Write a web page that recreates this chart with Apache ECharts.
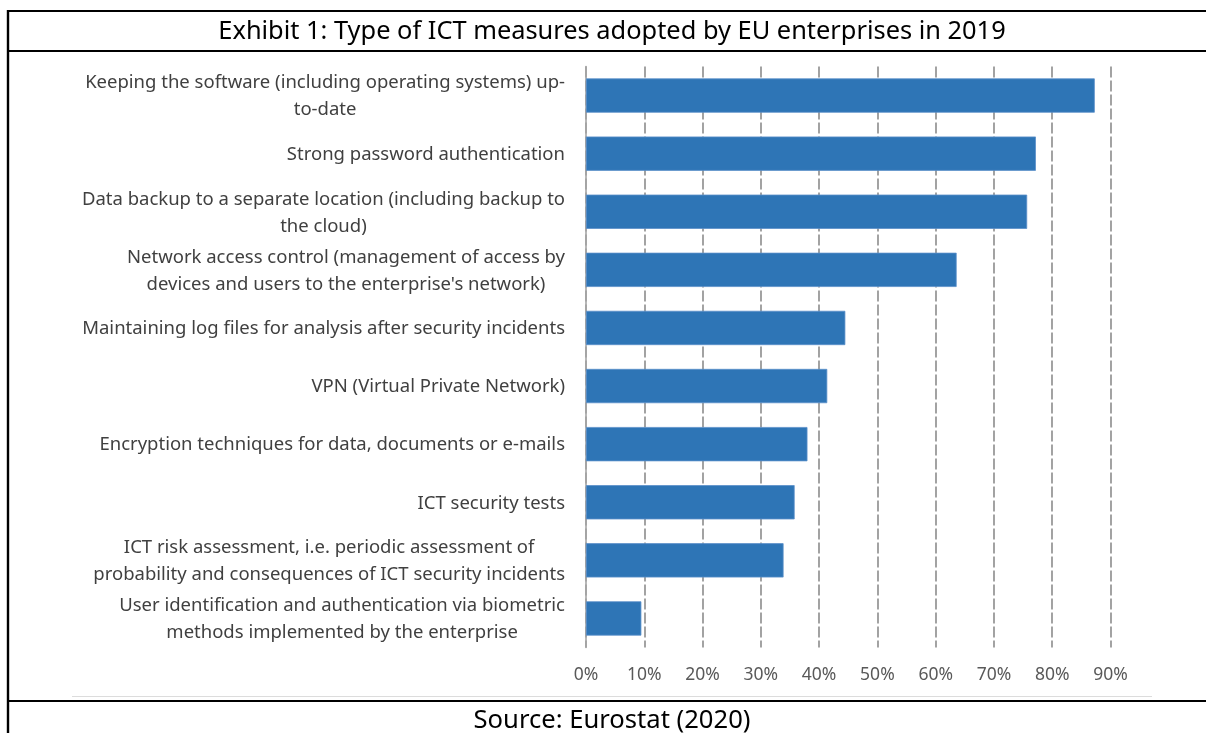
<!DOCTYPE html>
<html>
<head>
<meta charset="utf-8">
<title>Type of ICT measures adopted by EU enterprises in 2019</title>
<script src="https://cdn.jsdelivr.net/npm/echarts@6/dist/echarts.min.js"></script>
<style>
  html, body { margin: 0; padding: 0; background: #ffffff; }
  #chart { width: 1206px; height: 733px; }
</style>
</head>
<body>
<div id="chart"></div>
<script>
// Share of EU enterprises using each ICT security measure (%), 2019
const categories = [
  'Keeping the software (including operating systems) up-\nto-date',
  'Strong password authentication',
  'Data backup to a separate location (including backup to\nthe cloud)',
  'Network access control (management of access by\ndevices and users to the enterprise\'s network)',
  'Maintaining log files for analysis after security incidents',
  'VPN (Virtual Private Network)',
  'Encryption techniques for data, documents or e-mails',
  'ICT security tests',
  'ICT risk assessment, i.e. periodic assessment of\nprobability and consequences of ICT security incidents',
  'User identification and authentication via biometric\nmethods implemented by the enterprise'
];
const shares = [87.3, 77.2, 75.7, 63.6, 44.5, 41.4, 38.0, 35.8, 33.9, 9.5];
const tickValues = [0, 10, 20, 30, 40, 50, 60, 70, 80, 90];

const titleText = 'Exhibit 1: Type of ICT measures adopted by EU enterprises in 2019';
const sourceText = 'Source: Eurostat (2020)';

const FONT = '"Noto Sans", "Open Sans", sans-serif';

const chart = echarts.init(document.getElementById('chart'), null, { renderer: 'canvas' });

// wrapped labels: each line centred inside the right-aligned block
function categoryLabel(value) {
  return value.split('\n').map(function (line) { return '{c|' + line + '}'; }).join('\n');
}

chart.setOption({
  backgroundColor: '#ffffff',
  animation: false,
  grid: { left: 586, right: 95.5, top: 66.5, bottom: 85.5 },
  xAxis: {
    type: 'value',
    min: tickValues[0],
    max: tickValues[tickValues.length - 1],
    interval: 10,
    axisLine: { show: false },
    axisTick: { show: false },
    axisLabel: {
      formatter: '{value}%',
      color: '#595959',
      fontFamily: FONT,
      fontSize: 17.5,
      margin: 19
    },
    splitLine: {
      show: true,
      lineStyle: { color: '#8c8c8c', width: 1.6, type: [11, 3] }
    }
  },
  yAxis: {
    type: 'category',
    data: categories,
    inverse: true,
    axisLine: { show: true, lineStyle: { color: '#a6a6a6', width: 1.6 } },
    axisTick: { show: false },
    axisLabel: {
      margin: 21,
      formatter: categoryLabel,
      padding: [2, 0, 0, 0],
      rich: {
        c: {
          align: 'center',
          color: '#404040',
          fontFamily: FONT,
          fontSize: 18.5,
          lineHeight: 27
        }
      }
    }
  },
  series: [{
    type: 'bar',
    data: shares,
    barCategoryGap: '41%',
    itemStyle: { color: '#2e75b6', borderColor: '#5b8fc9', borderWidth: 0.8 },
    z: 3
  }],
  graphic: [
    // table frame
    { type: 'line', shape: { x1: 8, y1: 11, x2: 1206, y2: 11 }, style: { stroke: '#000', lineWidth: 2.2 } },
    { type: 'line', shape: { x1: 8, y1: 51, x2: 1206, y2: 51 }, style: { stroke: '#000', lineWidth: 2.2 } },
    { type: 'line', shape: { x1: 8, y1: 701, x2: 1206, y2: 701 }, style: { stroke: '#000', lineWidth: 2.2 } },
    { type: 'line', shape: { x1: 8, y1: 10, x2: 8, y2: 733 }, style: { stroke: '#000', lineWidth: 2.4 } },
    // chart area bottom edge
    { type: 'line', shape: { x1: 72, y1: 696.5, x2: 1152, y2: 696.5 }, style: { stroke: '#dcdcdc', lineWidth: 1 } },
    {
      type: 'text', x: 612, y: 31.5,
      style: { text: titleText, fill: '#000', font: '25.4px ' + FONT, align: 'center', verticalAlign: 'middle' }
    },
    {
      type: 'text', x: 612, y: 720.5,
      style: { text: sourceText, fill: '#000', font: '25.6px ' + FONT, align: 'center', verticalAlign: 'middle' }
    }
  ]
});
</script>
</body>
</html>
